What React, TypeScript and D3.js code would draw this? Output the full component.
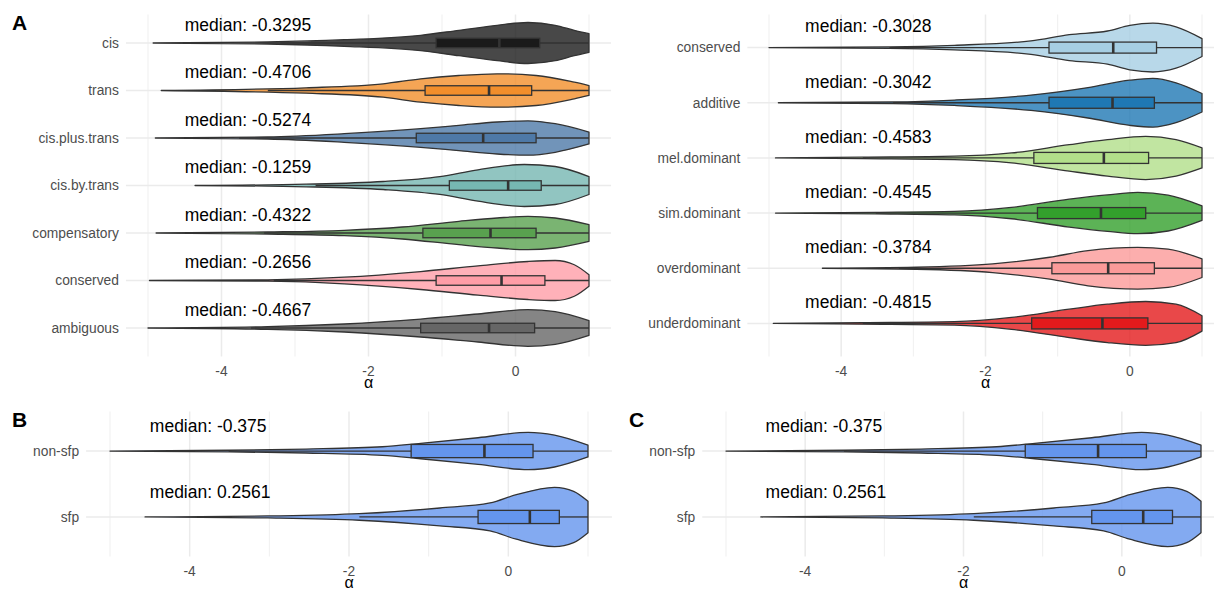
import React, { useEffect, useRef } from 'react';
import * as d3 from 'd3';

const width = 1214;
const height = 590;
const font = '"Liberation Sans", Arial, sans-serif';

// panel A left: regulatory classes
const regCategories = ['cis', 'trans', 'cis.plus.trans', 'cis.by.trans', 'compensatory', 'conserved', 'ambiguous'];
const regColors = ['#1a1a1a', '#f28e2b', '#4e79a7', '#76b7b2', '#59a14f', '#ff9da7', '#666666'];
const regMedianLabels = [-0.3295, -0.4706, -0.5274, -0.1259, -0.4322, -0.2656, -0.4667];
const regBoxMedian = [-0.22, -0.36, -0.44, -0.1, -0.34, -0.19, -0.36];
const regQ1 = [-1.08, -1.23, -1.35, -0.9, -1.26, -1.08, -1.29];
const regQ3 = [0.33, 0.22, 0.28, 0.35, 0.28, 0.4, 0.26];
const regWhiskerLow = [-3.2, -3.37, -3.76, -2.72, -3.42, -3.29, -3.6];
const regDensity = [
  [[-4.93, 0], [-3.37, 0.021], [-2.33, 0.069], [-1.29, 0.162], [-0.77, 0.267], [-0.25, 0.373], [0.17, 0.432], [0.54, 0.373], [0.8, 0.267], [1, 0.196]],
  [[-4.82, 0], [-2.85, 0.057], [-1.8, 0.141], [-1.29, 0.246], [-0.77, 0.316], [-0.25, 0.352], [0.28, 0.316], [0.8, 0.175], [1, 0.105]],
  [[-4.9, 0], [-3.37, 0.021], [-2.33, 0.091], [-1.29, 0.196], [-0.77, 0.267], [-0.25, 0.337], [0.17, 0.362], [0.54, 0.301], [1, 0.126]],
  [[-4.36, 0], [-2.85, 0.027], [-1.8, 0.084], [-1.03, 0.189], [-0.51, 0.331], [0.12, 0.442], [0.54, 0.4], [1, 0.189]],
  [[-4.89, 0], [-3.37, 0.021], [-2.33, 0.057], [-1.54, 0.126], [-0.77, 0.246], [-0.25, 0.316], [0.17, 0.352], [0.54, 0.316], [1, 0.175]],
  [[-4.98, 0], [-3.37, 0.015], [-2.33, 0.069], [-1.29, 0.189], [-0.51, 0.309], [0.17, 0.4], [0.54, 0.421], [0.8, 0.331], [1, 0.12]],
  [[-5, 0], [-3.37, 0.027], [-2.33, 0.084], [-1.29, 0.189], [-0.51, 0.295], [0.17, 0.385], [0.54, 0.343], [1, 0.154]],
];

// panel A right: inheritance classes
const domCategories = ['conserved', 'additive', 'mel.dominant', 'sim.dominant', 'overdominant', 'underdominant'];
const domColors = ['#a6cee3', '#1f78b4', '#b2df8a', '#33a02c', '#fb9a99', '#e31a1c'];
const domMedianLabels = [-0.3028, -0.3042, -0.4583, -0.4545, -0.3784, -0.4815];
const domBoxMedian = [-0.23, -0.24, -0.36, -0.4, -0.3, -0.38];
const domQ1 = [-1.12, -1.12, -1.33, -1.28, -1.08, -1.36];
const domQ3 = [0.37, 0.34, 0.26, 0.22, 0.34, 0.25];
const domWhiskerLow = [-3.33, -3.28, -3.7, -3.52, -3.2, -3.7];
const domDensity = [
  [[-5, 0], [-3.33, 0.013], [-2.43, 0.042], [-1.37, 0.121], [-0.84, 0.235], [-0.31, 0.301], [0, 0.403], [0.32, 0.442], [0.64, 0.374], [1, 0.162]],
  [[-4.87, 0], [-3.28, 0.014], [-2.43, 0.049], [-1.37, 0.139], [-0.58, 0.276], [0, 0.41], [0.32, 0.442], [0.64, 0.361], [1, 0.168]],
  [[-4.91, 0], [-3.7, 0.014], [-2.43, 0.031], [-1.64, 0.09], [-0.84, 0.24], [-0.31, 0.33], [0.22, 0.392], [0.64, 0.33], [1, 0.181]],
  [[-4.91, 0], [-3.52, 0.014], [-2.43, 0.031], [-1.64, 0.103], [-0.84, 0.253], [-0.31, 0.33], [0.11, 0.374], [0.53, 0.325], [1, 0.132]],
  [[-4.26, 0], [-2.96, 0.018], [-1.9, 0.078], [-1.11, 0.199], [-0.58, 0.319], [0.11, 0.379], [0.53, 0.348], [1, 0.168]],
  [[-4.94, 0], [-3.7, 0.014], [-2.43, 0.031], [-1.64, 0.108], [-0.84, 0.258], [-0.31, 0.348], [0.22, 0.397], [0.64, 0.348], [1, 0.139]],
];

// panels B and C: sfp vs non-sfp
const sfpCategories = ['non-sfp', 'sfp'];
const sfpColors = ['#6495ed', '#6495ed'];
const sfpMedianLabels = [-0.375, 0.2561];
const sfpBoxMedian = [-0.3, 0.27];
const sfpQ1 = [-1.22, -0.38];
const sfpQ3 = [0.31, 0.64];
const sfpWhiskerLow = [-3.51, -1.87];
const sfpDensity = [
  [[-5, 0], [-3.5, 0.012], [-2.54, 0.03], [-1.58, 0.065], [-1.1, 0.117], [-0.38, 0.202], [0.25, 0.283], [0.58, 0.242], [1, 0.09]],
  [[-4.56, 0], [-3.02, 0.015], [-1.87, 0.05], [-0.86, 0.136], [-0.23, 0.212], [0.1, 0.338], [0.58, 0.45], [0.82, 0.389], [1, 0.238]],
];

const xTicks = [-4, -2, 0];
const xMinor = [-5, -3, -1, 1];
const dataMax = 1;

const panels = [
  { tag: 'A', tagX: 12, tagY: 30, cats: regCategories, colors: regColors, labels: regMedianLabels, medians: regBoxMedian, q1: regQ1, q3: regQ3, wlo: regWhiskerLow, density: regDensity, xA: 148, xB: 589, top: 14.5, bottom: 356.5 },
  { tag: '', tagX: 0, tagY: 0, cats: domCategories, colors: domColors, labels: domMedianLabels, medians: domBoxMedian, q1: domQ1, q3: domQ3, wlo: domWhiskerLow, density: domDensity, xA: 769, xB: 1202, top: 14.5, bottom: 356.5 },
  { tag: 'B', tagX: 12, tagY: 427, cats: sfpCategories, colors: sfpColors, labels: sfpMedianLabels, medians: sfpBoxMedian, q1: sfpQ1, q3: sfpQ3, wlo: sfpWhiskerLow, density: sfpDensity, xA: 110, xB: 588, top: 411.5, bottom: 556.5 },
  { tag: 'C', tagX: 629, tagY: 427, cats: sfpCategories, colors: sfpColors, labels: sfpMedianLabels, medians: sfpBoxMedian, q1: sfpQ1, q3: sfpQ3, wlo: sfpWhiskerLow, density: sfpDensity, xA: 726, xB: 1201, top: 411.5, bottom: 556.5 },
];

const lineColor = '#333333';
const lineWidth = 1.3;

function drawPanel(svg: any, p: any) {
  const x = d3.scaleLinear().domain([-5, 1]).range([p.xA, p.xB]);
  const left = x(-5.3);
  const right = Math.min(x(1.3), width);
  const y = d3.scalePoint<string>().domain(p.cats).range([p.top, p.bottom]).padding(0.6);
  const step = y.step();
  const g = svg.append('g');

  // grid
  g.selectAll('.minor').data(xMinor).enter().append('line')
    .attr('x1', (d: number) => x(d)).attr('x2', (d: number) => x(d))
    .attr('y1', p.top).attr('y2', p.bottom)
    .attr('stroke', '#ebebeb').attr('stroke-width', 0.8);
  g.selectAll('.major').data(xTicks).enter().append('line')
    .attr('x1', (d: number) => x(d)).attr('x2', (d: number) => x(d))
    .attr('y1', p.top).attr('y2', p.bottom)
    .attr('stroke', '#ebebeb').attr('stroke-width', 1.5);
  g.selectAll('.hgrid').data(p.cats).enter().append('line')
    .attr('x1', left).attr('x2', right)
    .attr('y1', (d: string) => y(d)).attr('y2', (d: string) => y(d))
    .attr('stroke', '#ebebeb').attr('stroke-width', 1.5);

  p.cats.forEach((cat: string, i: number) => {
    const cy = y(cat) as number;
    const area = d3.area<number[]>()
      .x(d => x(d[0]))
      .y0(d => cy - d[1] * step)
      .y1(d => cy + d[1] * step)
      .curve(d3.curveMonotoneX);

    g.append('path')
      .attr('d', area(p.density[i]))
      .attr('fill', p.colors[i])
      .attr('fill-opacity', 0.8)
      .attr('stroke', lineColor)
      .attr('stroke-width', lineWidth)
      .attr('stroke-linejoin', 'round');

    // whiskers
    g.append('line')
      .attr('x1', x(p.wlo[i])).attr('x2', x(p.q1[i]))
      .attr('y1', cy).attr('y2', cy)
      .attr('stroke', lineColor).attr('stroke-width', lineWidth);
    g.append('line')
      .attr('x1', x(p.q3[i])).attr('x2', x(dataMax))
      .attr('y1', cy).attr('y2', cy)
      .attr('stroke', lineColor).attr('stroke-width', lineWidth);

    // box
    g.append('rect')
      .attr('x', x(p.q1[i]))
      .attr('y', cy - 0.1 * step)
      .attr('width', x(p.q3[i]) - x(p.q1[i]))
      .attr('height', 0.2 * step)
      .attr('fill', p.colors[i])
      .attr('stroke', lineColor)
      .attr('stroke-width', lineWidth);
    g.append('line')
      .attr('x1', x(p.medians[i])).attr('x2', x(p.medians[i]))
      .attr('y1', cy - 0.1 * step).attr('y2', cy + 0.1 * step)
      .attr('stroke', lineColor).attr('stroke-width', 2.6);

    // median annotation
    g.append('text')
      .attr('x', x(-4.5))
      .attr('y', cy - 0.39 * step)
      .attr('dy', '0.36em')
      .attr('font-size', 17.5)
      .attr('fill', '#000')
      .text(`median: ${p.labels[i]}`);

    // category label
    g.append('text')
      .attr('x', left - 7)
      .attr('y', cy)
      .attr('dy', '0.35em')
      .attr('text-anchor', 'end')
      .attr('font-size', 13.8)
      .attr('fill', '#4d4d4d')
      .text(cat);
  });

  // x axis
  g.selectAll('.tick').data(xTicks).enter().append('text')
    .attr('x', (d: number) => x(d))
    .attr('y', p.bottom + 19)
    .attr('text-anchor', 'middle')
    .attr('font-size', 13.8)
    .attr('fill', '#4d4d4d')
    .text((d: number) => (d < 0 ? '-' + Math.abs(d) : String(d)));
  g.append('text')
    .attr('x', (left + x(1.3)) / 2)
    .attr('y', p.bottom + 31.5)
    .attr('text-anchor', 'middle')
    .attr('font-size', 16)
    .attr('fill', '#000')
    .text('α');

  if (p.tag) {
    g.append('text')
      .attr('x', p.tagX)
      .attr('y', p.tagY)
      .attr('font-size', 21)
      .attr('font-weight', 'bold')
      .attr('fill', '#000')
      .text(p.tag);
  }
}

export default function App() {
  const ref = useRef<SVGSVGElement>(null);

  useEffect(() => {
    const svg = d3.select(ref.current);
    svg.selectAll('*').remove();
    svg.append('rect').attr('width', width).attr('height', height).attr('fill', '#fff');
    panels.forEach(p => drawPanel(svg, p));
  }, []);

  return (
    <svg
      ref={ref}
      width={width}
      height={height}
      style={{ position: 'absolute', left: 0, top: 0, fontFamily: font }}
    />
  );
}
